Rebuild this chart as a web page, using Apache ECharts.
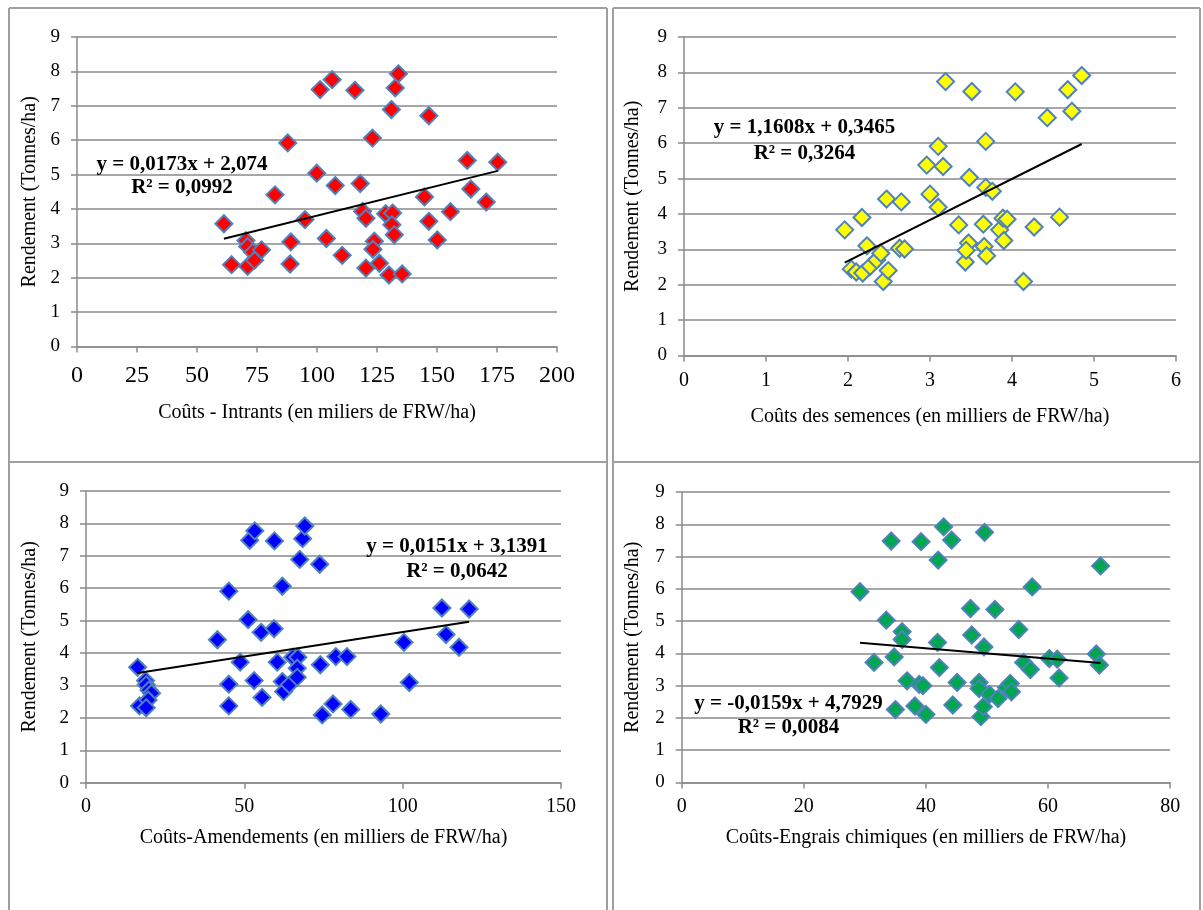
<!DOCTYPE html>
<html><head><meta charset="utf-8">
<script src="https://cdn.jsdelivr.net/npm/echarts@6/dist/echarts.min.js"></script>
<style>html,body{margin:0;padding:0;background:#fff}#c{width:1203px;height:910px}</style>
</head><body><div id="c"></div>
<script>
// ---------- DATA ----------
const yTitle = 'Rendement (Tonnes/ha)';
const xTitles = ['Coûts - Intrants (en miliers de FRW/ha)', 'Coûts des semences (en milliers de FRW/ha)',
                 'Coûts-Amendements (en milliers de FRW/ha)', 'Coûts-Engrais chimiques (en milliers de FRW/ha)'];
const xMax = [200, 6, 150, 80];
const xStep = [25, 1, 50, 20];
const yMax = 9, yStep = 1;

const intrants = [[61.2,3.57],[64.4,2.38],[70.4,3.08],[71.1,2.91],[71.1,2.33],[73.3,2.74],[74.0,2.51],[76.9,2.81],[82.5,4.41],[87.8,5.92],[89.1,3.04],[88.8,2.40],[95.0,3.69],[99.9,5.04],[101.3,7.47],[106.3,7.76],[103.9,3.14],[107.6,4.68],[110.5,2.65],[115.8,7.45],[118.0,4.74],[119.0,3.93],[120.4,3.73],[120.4,2.28],[123.1,6.06],[123.9,3.06],[123.3,2.83],[126.0,2.42],[128.6,3.86],[130.0,2.08],[131.0,6.89],[131.5,3.88],[131.2,3.54],[132.2,3.25],[132.6,7.52],[133.9,7.93],[135.5,2.11],[144.8,4.35],[146.6,6.71],[146.6,3.64],[150.1,3.10],[155.6,3.92],[162.6,5.41],[164.1,4.58],[170.5,4.20],[175.3,5.36]];

const semences = [[1.96,3.55],[2.17,3.90],[2.04,2.44],[2.10,2.36],[2.18,2.33],[2.23,3.10],[2.27,2.52],[2.35,2.70],[2.40,2.89],[2.43,2.09],[2.49,2.40],[2.47,4.42],[2.65,4.34],[2.63,3.03],[2.69,3.01],[2.96,5.38],[3.00,4.56],[3.10,5.91],[3.10,4.19],[3.16,5.34],[3.19,7.74],[3.35,3.69],[3.43,2.64],[3.47,3.18],[3.44,2.97],[3.48,5.03],[3.51,7.46],[3.65,3.71],[3.66,3.08],[3.68,6.05],[3.69,2.82],[3.68,4.75],[3.76,4.64],[3.85,3.55],[3.89,3.88],[3.94,3.85],[3.90,3.25],[4.04,7.45],[4.14,2.09],[4.27,3.63],[4.43,6.72],[4.58,3.91],[4.68,7.51],[4.73,6.90],[4.85,7.91]];

const amendements = [[16.3,3.56],[16.9,2.37],[18.8,3.15],[19.0,3.02],[19.9,2.86],[20.7,2.76],[19.6,2.55],[19.0,2.31],[41.5,4.41],[45.1,5.91],[45.1,3.04],[45.1,2.37],[48.7,3.72],[51.2,5.03],[51.7,7.48],[53.3,7.77],[53.1,3.15],[55.3,4.64],[55.6,2.63],[59.4,4.75],[59.5,7.46],[60.4,3.72],[62.0,6.06],[62.0,3.12],[62.4,2.81],[64.2,3.02],[65.3,3.87],[66.9,3.87],[66.7,3.53],[66.7,3.25],[67.5,6.89],[68.4,7.53],[69.1,7.92],[73.8,6.74],[74.0,3.64],[74.6,2.09],[78.0,2.43],[78.9,3.89],[82.4,3.89],[83.6,2.26],[93.1,2.12],[100.4,4.33],[102.1,3.09],[112.4,5.39],[113.7,4.57],[117.8,4.18],[121.0,5.36]];

const engrais = [[29.2,5.91],[31.5,3.72],[33.5,5.03],[34.3,7.48],[34.8,3.89],[35.0,2.26],[36.1,4.67],[36.1,4.43],[36.9,3.15],[38.2,2.37],[38.9,3.04],[39.2,7.46],[39.5,3.00],[40.0,2.11],[42.0,6.89],[41.9,4.34],[42.2,3.56],[42.9,7.92],[44.2,7.51],[44.4,2.40],[45.1,3.10],[47.3,5.39],[47.5,4.57],[48.7,3.10],[48.7,2.91],[49.0,2.04],[49.4,2.35],[49.5,4.20],[49.6,7.75],[50.4,2.73],[51.3,5.36],[51.8,2.60],[53.2,2.94],[53.8,3.07],[54.0,2.81],[55.2,4.74],[56.0,3.72],[57.1,3.50],[57.4,6.06],[60.2,3.84],[61.5,3.82],[61.8,3.24],[67.9,3.98],[68.4,3.64],[68.6,6.71]];

const trendSlope = [0.0173, 1.1608, 0.0151, -0.0159];
const trendIntercept = [2.074, 0.3465, 3.1391, 4.7929];
const eqLine1 = ['y = 0,0173x + 2,074', 'y = 1,1608x + 0,3465', 'y = 0,0151x + 3,1391', 'y = -0,0159x + 4,7929'];
const eqLine2 = ['R² = 0,0992', 'R² = 0,3264', 'R² = 0,0642', 'R² = 0,0084'];

// ---------- STYLE / LAYOUT ----------
const panels = [intrants, semences, amendements, engrais];
const fills = ['#FF0000', '#FFFF00', '#0000FF', '#00A650'];
const grids = [
  {left: 77, top: 37, width: 480, height: 309.5},
  {left: 684, top: 37, width: 492, height: 318.5},
  {left: 86, top: 491, width: 475, height: 291.7},
  {left: 681.7, top: 492, width: 488.5, height: 290.5}
];
const xLabelSize = [24, 20, 20, 20];
const xLabelMargin = [17, 15, 14, 14];
const xTitleY = [413, 417, 838, 838];
const eqPos = [[182,165,188],[804.5,128,154],[457,547,572],[788.5,704,728]];
const FONT = '"Liberation Serif","Times New Roman",serif';
const GRAY = '#8a8a8a';

const option = {
  backgroundColor: '#fff',
  animation: false,
  grid: grids.map(g => Object.assign({containLabel: false}, g)),
  xAxis: panels.map((p, i) => ({
    type: 'value', gridIndex: i, min: 0, max: xMax[i], interval: xStep[i],
    axisLine: {onZero: false, lineStyle: {color: GRAY, width: 1.5}},
    axisTick: {show: true, inside: false, length: 6, lineStyle: {color: GRAY, width: 1.5}},
    splitLine: {show: false},
    axisLabel: {color: '#000', fontFamily: FONT, fontSize: xLabelSize[i], margin: xLabelMargin[i]}
  })),
  yAxis: panels.map((p, i) => ({
    type: 'value', gridIndex: i, min: 0, max: yMax, interval: yStep,
    axisLine: {show: true, lineStyle: {color: GRAY, width: 1.5}},
    axisTick: {show: true, inside: false, length: 6, lineStyle: {color: GRAY, width: 1.5}},
    splitLine: {show: true, lineStyle: {color: GRAY, width: 1.5}},
    axisLabel: {color: '#000', fontFamily: FONT, fontSize: 19, margin: 17}
  })),
  series: [],
  graphic: []
};

panels.forEach((p, i) => {
  option.series.push({
    type: 'scatter', xAxisIndex: i, yAxisIndex: i, data: p,
    symbol: 'diamond', symbolSize: 17, z: 3,
    itemStyle: {color: fills[i], borderColor: '#4F81BD', borderWidth: 2, opacity: 1}
  });
  const xs = p.map(d => d[0]);
  const x0 = Math.min.apply(null, xs), x1 = Math.max.apply(null, xs);
  option.series.push({
    type: 'line', xAxisIndex: i, yAxisIndex: i, symbol: 'none', z: 4,
    data: [[x0, trendSlope[i]*x0 + trendIntercept[i]], [x1, trendSlope[i]*x1 + trendIntercept[i]]],
    lineStyle: {color: '#000', width: 2}
  });
  const g = grids[i];
  option.graphic.push({type: 'text', x: g.left + g.width/2, y: xTitleY[i], z: 10,
    style: {text: xTitles[i], font: '20px ' + FONT, fill: '#000', textAlign: 'center', textVerticalAlign: 'middle'}});
  option.graphic.push({type: 'text', x: (i % 2 === 0) ? 30 : 633, y: g.top + g.height/2, rotation: Math.PI/2, z: 10,
    style: {text: yTitle, font: '20px ' + FONT, fill: '#000', textAlign: 'center', textVerticalAlign: 'middle'}});
  option.graphic.push({type: 'text', x: eqPos[i][0], y: eqPos[i][1], z: 10,
    style: {text: eqLine1[i], font: 'bold 21px ' + FONT, fill: '#000', textAlign: 'center', textVerticalAlign: 'middle'}});
  option.graphic.push({type: 'text', x: eqPos[i][0], y: eqPos[i][2], z: 10,
    style: {text: eqLine2[i], font: 'bold 21px ' + FONT, fill: '#000', textAlign: 'center', textVerticalAlign: 'middle'}});
});

// table borders
const BORDER = '#a0a0a0';
const borderLines = [
  [9, 8, 607, 8], [9, 8, 9, 910], [607, 8, 607, 910], [9, 462, 607, 462],
  [613, 8, 1200, 8], [613, 8, 613, 910], [1200, 8, 1200, 910], [613, 462, 1200, 462]
];
borderLines.forEach(b => option.graphic.push({type: 'line', z: 1, silent: true,
  shape: {x1: b[0], y1: b[1], x2: b[2], y2: b[3]}, style: {stroke: BORDER, lineWidth: 2}}));

const chart = echarts.init(document.getElementById('c'), null, {renderer: 'canvas'});
chart.setOption(option);
</script></body></html>
